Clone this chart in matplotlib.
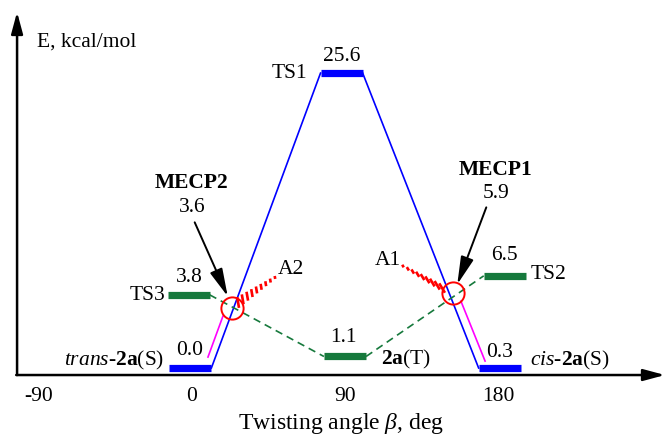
import numpy as np
import matplotlib
matplotlib.use('Agg')
import matplotlib.pyplot as plt

plt.rcParams['font.family'] = ['Liberation Serif', 'DejaVu Serif']
plt.rcParams['mathtext.fontset'] = 'custom'
plt.rcParams['mathtext.rm'] = 'Liberation Serif'
plt.rcParams['mathtext.it'] = 'Liberation Serif:italic'
plt.rcParams['mathtext.bf'] = 'Liberation Serif:bold'

# ---------------- data ----------------
tick_angles = [-90, 0, 90, 180]
state_labels = [r'$\mathit{trans}$-$\mathbf{2a}$(S)', 'TS1', r'$\mathit{cis}$-$\mathbf{2a}$(S)',
                'TS3', r'$\mathbf{2a}$(T)', 'TS2']
state_angle = [-1.0, 88.0, 181.0, -2.0, 90.0, 184.0]     # twisting angle (deg)
state_level = [0.0, 25.6, 0.0, 6.35, 1.0, 8.0]           # schematic drawn height
state_energy = ['0.0', '25.6', '0.3', '3.8', '1.1', '6.5']
state_surface = ['S', 'S', 'S', 'T', 'T', 'T']

mecp_labels = ['MECP2', 'MECP1']
mecp_angle = [23.35, 153.7]
mecp_level = [5.18, 6.48]
mecp_energy = ['3.6', '5.9']

# magenta singlet branches (angle pairs, level pairs)
mag_angle = [[9.4, 18.2], [158.2, 172.4]]
mag_level = [[0.95, 4.5], [5.8, 0.6]]

# hashed wedges A2, A1 (start near circle -> end)
hash_labels = ['A2', 'A1']
hash_start = [[27.1, 5.69], [147.1, 6.94]]
hash_end = [[48.8, 7.86], [124.1, 8.85]]

# ---------------- layout ----------------
W, H = 668, 436
fig = plt.figure(figsize=(W / 100, H / 100), dpi=100)
ax = fig.add_axes([0, 0, 1, 1])
PX0, PXS = 192.0, 1.7      # pixel of angle 0, pixels per degree
PY0, PYS = 368.0, 11.52    # pixel of level 0, pixels per unit
ax.set_xlim(-PX0 / PXS, (W - PX0) / PXS)
ax.set_ylim((PY0 - H) / PYS, PY0 / PYS)
ax.axis('off')

FS = 15.5
BLUE = '#0000ff'
GREEN = '#16793c'
MAG = '#ff00ff'
RED = '#ff0000'
HALF = 12.4   # half width of level bars (deg)
BAR_LW = 5.2


def off(x, y, dx, dy):
    return (x + dx / PXS, y + dy / PYS)


def lab(text, x, y, dx, dy, ha='center', **kw):
    ax.annotate(text, xy=(x, y), xytext=(dx, dy), textcoords='offset pixels',
                ha=ha, va='center', fontsize=kw.pop('fontsize', FS), **kw)


# axes frame with arrows
ax_x0, ax_y0 = -102.9, -0.61
ax.annotate('', xy=(ax_x0, 30.9), xytext=(ax_x0, ax_y0),
            arrowprops=dict(arrowstyle='-|>,head_length=1.3,head_width=0.35',
                            mutation_scale=10, lw=1.8, color='black',
                            shrinkA=0, shrinkB=0))
ax.annotate('', xy=(278.2, ax_y0), xytext=(ax_x0 - 0.5, ax_y0),
            arrowprops=dict(arrowstyle='-|>,head_length=1.3,head_width=0.35',
                            mutation_scale=10, lw=1.8, color='black',
                            shrinkA=0, shrinkB=0))
for a in tick_angles:
    ax.text(a, (PY0 - 396) / PYS, str(a), ha='center', va='center', fontsize=FS)
ax.text(87.5, (PY0 - 423) / PYS, r'Twisting angle $\mathit{\beta}$, deg',
        ha='center', va='center', fontsize=17)
ax.text(ax_x0 + 20 / PXS, (PY0 - 42) / PYS, 'E, kcal/mol',
        ha='left', va='center', fontsize=FS)

# level bars
for ang, lev, surf in zip(state_angle, state_level, state_surface):
    ax.plot([ang - HALF, ang + HALF], [lev, lev], color=BLUE if surf == 'S' else GREEN,
            lw=BAR_LW, solid_capstyle='butt', zorder=3)

# singlet (blue) connections: trans -> TS1 -> cis
s = [i for i, v in enumerate(state_surface) if v == 'S']
for i, j in zip(s[:-1], s[1:]):
    ax.plot([state_angle[i] + HALF, state_angle[j] - HALF],
            [state_level[i], state_level[j]], color=BLUE, lw=1.2, zorder=2)

# triplet (green dashed) connections: TS3 -> 2a(T) -> TS2
t = [i for i, v in enumerate(state_surface) if v == 'T']
for i, j in zip(t[:-1], t[1:]):
    ax.plot([state_angle[i] + HALF, state_angle[j] - HALF],
            [state_level[i], state_level[j]], color=GREEN, lw=1.2,
            ls=(0, (4.5, 3)), zorder=2)

# magenta branches
for xs, ys in zip(mag_angle, mag_level):
    ax.plot(xs, ys, color=MAG, lw=1.2, zorder=2)

# MECP circles
for ang, lev in zip(mecp_angle, mecp_level):
    ax.plot([ang], [lev], marker='o', ms=16, mfc='none', mec=RED, mew=1.4, zorder=4)

# hashed wedges
fig.canvas.draw()
tr = ax.transData
inv = tr.inverted()
mark_angle = [100.0, 121.0]
for (sx, sy), (ex, ey), th in zip(hash_start, hash_end, mark_angle):
    p0 = tr.transform((sx, sy))
    p1 = tr.transform((ex, ey))
    u = np.array([np.cos(np.radians(th)), np.sin(np.radians(th))])
    n = 9
    for k in range(n):
        f = k / (n - 1)
        c = p0 + f * (p1 - p0)
        L = 11 - 8 * f
        a = inv.transform(c - u * L / 2)
        b = inv.transform(c + u * L / 2)
        ax.plot([a[0], b[0]], [a[1], b[1]], color=RED, lw=1.9, solid_capstyle='butt', zorder=3)

# state labels
name_off = [(-26, 8, 'right'), (-34, 0, 'right'), (30, 8, 'left'),
            (-23, -1, 'right'), (36, -3.5, 'left'), (26, 1, 'left')]
val_off = [(-1, 18), (0, 17), (0, 16), (1, 17), (-2, 18.5), (0, 20)]
for k in range(len(state_labels)):
    x, y = state_angle[k], state_level[k]
    dx, dy, ha = name_off[k]
    lab(state_labels[k], x, y, dx, dy, ha=ha)
    vx, vy = val_off[k]
    lab(state_energy[k], x, y, vx, vy)

# MECP labels and arrows
mecp_txt = [(-40, 125, -40, 101, (-37, 86), (-4, 12)),
            (42, 123, 43, 100, (33, 86), (4, 9))]
for k in range(2):
    x, y = mecp_angle[k], mecp_level[k]
    nx, ny, vx, vy, tail, tip = mecp_txt[k]
    lab(mecp_labels[k], x, y, nx, ny, fontweight='bold')
    lab(mecp_energy[k], x, y, vx, vy)
    ax.annotate('', xy=off(x, y, *tip), xytext=off(x, y, *tail),
                arrowprops=dict(arrowstyle='-|>,head_length=1.7,head_width=0.4',
                                mutation_scale=10, lw=1.4, color='black',
                                shrinkA=0, shrinkB=0), zorder=5)

hash_lab_off = [(16, 7.5), (-15, 6)]
for k in range(2):
    ex, ey = hash_end[k]
    lab(hash_labels[k], ex, ey, *hash_lab_off[k])

fig.savefig('out.png', dpi=100)
